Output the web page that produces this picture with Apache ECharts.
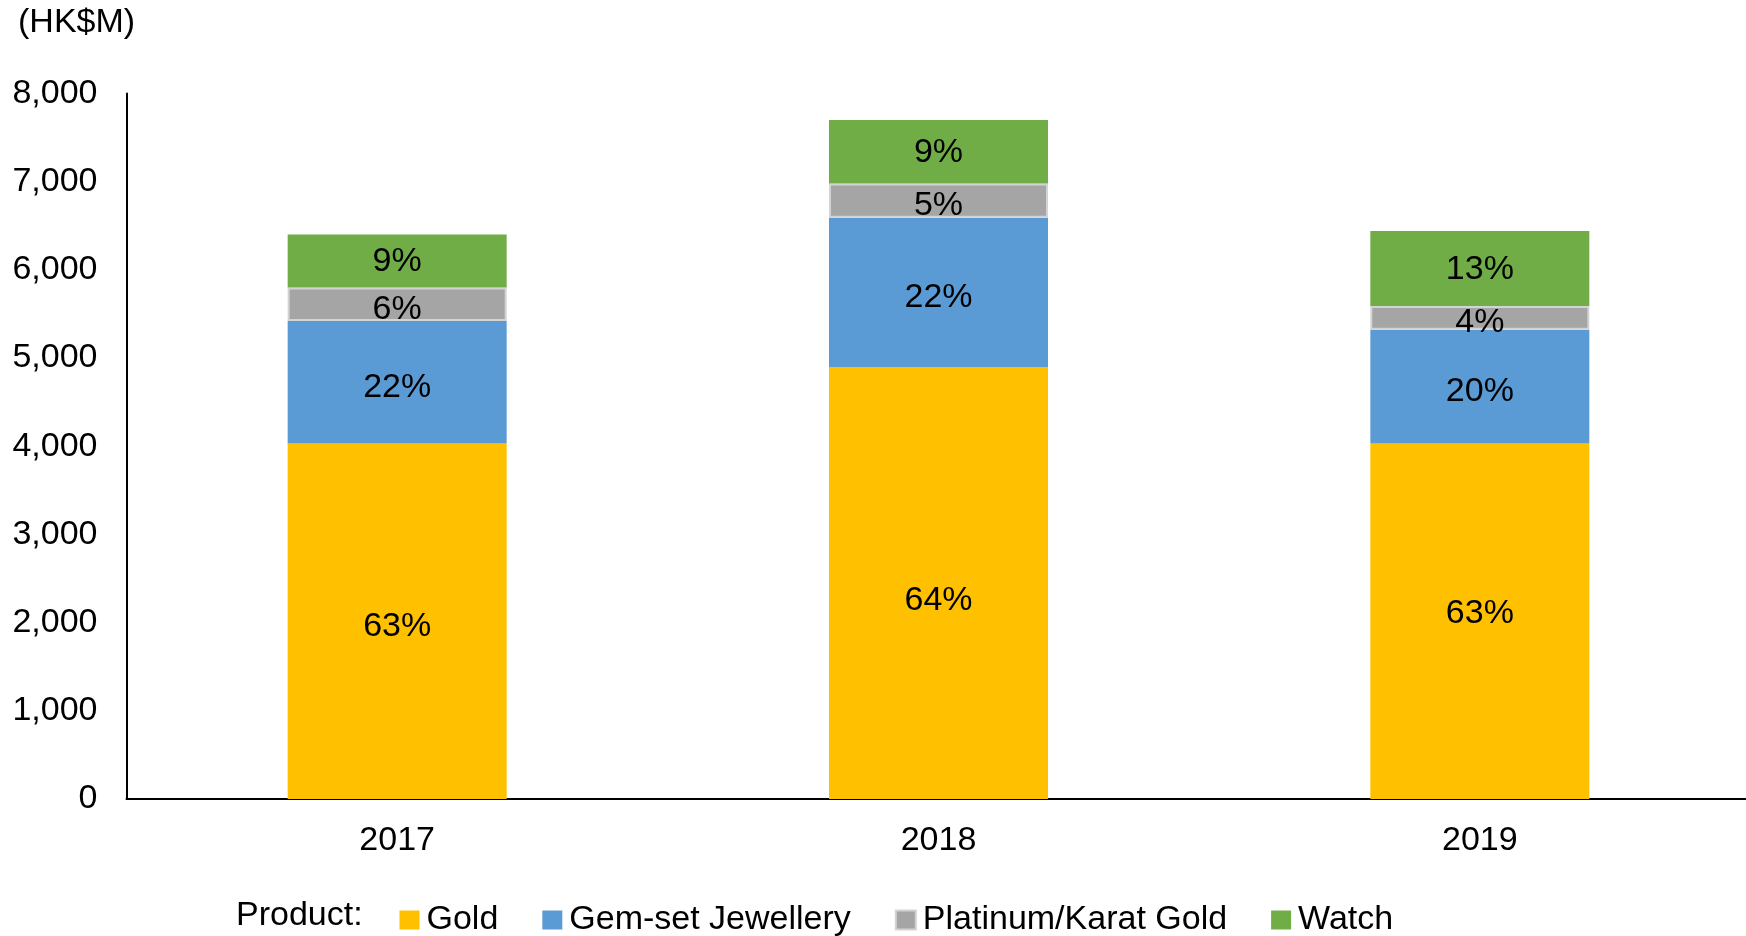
<!DOCTYPE html>
<html>
<head>
<meta charset="utf-8">
<title>Sales by product</title>
<script src="https://cdn.jsdelivr.net/npm/echarts@6/dist/echarts.min.js"></script>
<style>
  html, body { margin: 0; padding: 0; background: #ffffff; }
  #chart { width: 1746px; height: 936px; }
</style>
</head>
<body>
<div id="chart"></div>
<script>
// Sales by product line, HK$ million
const years = ['2017', '2018', '2019'];
const gold = [4030, 4900, 4030];
const gemSet = [1390, 1690, 1290];
const platinum = [380, 390, 270];
const watch = [600, 720, 850];
const seriesNames = ['Gold', 'Gem-set Jewellery', 'Platinum/Karat Gold', 'Watch'];
const yTicks = [0, 1000, 2000, 3000, 4000, 5000, 6000, 7000, 8000];

const colors = ['#FFC000', '#5B9BD5', '#A5A5A5', '#70AD47'];
const FONT = '"Liberation Sans", Arial, sans-serif';
const FS = 34;

// vertical nudges (px) for the percentage labels
const goldLabelDy = [5, 18, -8];
const seriesLabelDy = [0, 5, 5, 1];

const stacks = [gold, gemSet, platinum, watch];
const totals = years.map((_, i) => stacks.reduce((s, arr) => s + arr[i], 0));

const chart = echarts.init(document.getElementById('chart'), null, { renderer: 'canvas' });

const series = stacks.map((arr, si) => ({
  name: seriesNames[si],
  type: 'bar',
  stack: 'total',
  barWidth: 219,
  data: arr.map((v, i) => si === 0
    ? { value: v, label: { offset: [0, goldLabelDy[i]] } }
    : v),
  itemStyle: si === 2
    ? { color: colors[si], borderColor: '#D3D3D3', borderWidth: 2 }
    : { color: colors[si] },
  label: {
    show: true,
    position: 'inside',
    offset: [0, seriesLabelDy[si]],
    color: '#000',
    fontFamily: FONT,
    fontSize: FS,
    formatter: p => Math.round(p.value / totals[p.dataIndex] * 100) + '%'
  },
  emphasis: { disabled: true }
}));

chart.setOption({
  animation: false,
  backgroundColor: '#ffffff',
  textStyle: { fontFamily: FONT },
  grid: {
    left: 126.5, top: 93.5, width: 1624, height: 705.5,
    containLabel: false, outerBoundsMode: 'none'
  },
  xAxis: {
    type: 'category',
    data: years,
    axisLine: { lineStyle: { color: '#000', width: 2 } },
    axisTick: { show: false },
    axisLabel: { color: '#000', fontFamily: FONT, fontSize: FS, margin: 25 }
  },
  yAxis: {
    type: 'value',
    min: yTicks[0],
    max: yTicks[yTicks.length - 1],
    interval: yTicks[1] - yTicks[0],
    splitLine: { show: false },
    axisLine: { show: true, lineStyle: { color: '#000', width: 2 } },
    axisTick: { show: false },
    axisLabel: {
      color: '#000', fontFamily: FONT, fontSize: FS, margin: 29,
      padding: [8, 0, 0, 0],
      formatter: v => v.toLocaleString('en-US')
    }
  },
  legend: {
    left: 394.5,
    top: 897,
    icon: 'rect',
    itemWidth: 20,
    itemHeight: 19,
    itemGap: 44,
    selectedMode: false,
    textStyle: { color: '#000', fontFamily: FONT, fontSize: FS, lineHeight: 36, padding: [0, 0, 0, 2] },
    data: seriesNames
  },
  graphic: [
    {
      type: 'text', left: 18, top: 6,
      style: { text: '(HK$M)', fill: '#000', font: FS + 'px ' + FONT }
    },
    {
      type: 'text', left: 236, top: 899,
      style: { text: 'Product:', fill: '#000', font: FS + 'px ' + FONT }
    }
  ],
  series: series
});
</script>
</body>
</html>
